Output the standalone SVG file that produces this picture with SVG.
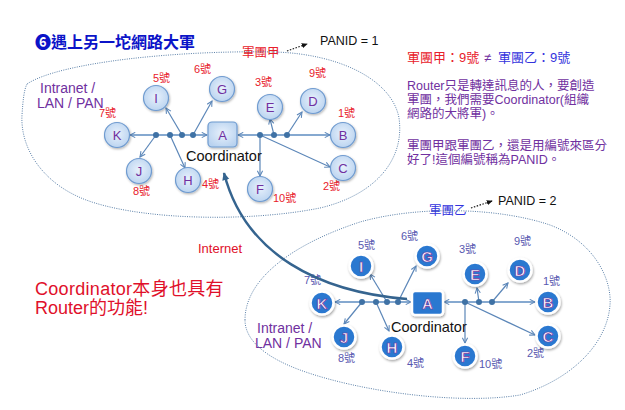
<svg xmlns="http://www.w3.org/2000/svg" width="625" height="410" viewBox="0 0 625 410">
<style>
.cjk{font-family:"Liberation Sans","Noto Sans CJK TC",sans-serif}
.blob{fill:none;stroke:#5a7fa8;stroke-width:1;stroke-dasharray:1 1.3}
.ln{fill:none;stroke:#5b86b8;stroke-width:1.2;marker-end:url(#arr)}
.hl{fill:none;stroke:#86a9d0;stroke-width:2;marker-end:url(#arr)}
.dot{fill:#3f72a5}
.n1 circle{fill:url(#g1);stroke:#6f9bd0;stroke-width:1.2;filter:url(#sh)}
.n1 text{font-family:"Liberation Sans",sans-serif;font-size:13px;fill:#7030a0;text-anchor:middle}
.n2 circle,.n2 rect{fill:#2a78d0;stroke:#fff;stroke-width:2.5;filter:url(#sh2)}
.n2 text{font-family:"Liberation Sans",sans-serif;font-size:15px;font-weight:bold;fill:#fff;stroke:#7030a0;stroke-width:0.7;text-anchor:middle}
.lr{font-size:11px;fill:#e8202a}
.lb{font-size:11px;fill:#5858b0}
.coord{font-family:"Liberation Sans",sans-serif;font-size:14.5px;fill:#111}
.intra{font-family:"Liberation Sans",sans-serif;font-size:14px;fill:#7030a0}
.pur{font-size:12.5px;fill:#7030a0}
</style>
<defs>
<radialGradient id="g1" cx="50%" cy="45%" r="60%">
<stop offset="0" stop-color="#e8f1fc"/>
<stop offset="1" stop-color="#b8d2ef"/>
</radialGradient>
<filter id="sh" x="-30%" y="-30%" width="160%" height="160%">
<feDropShadow dx="0.8" dy="1.2" stdDeviation="0.8" flood-color="#000" flood-opacity="0.3"/>
</filter>
<filter id="sh2" x="-40%" y="-40%" width="180%" height="180%">
<feDropShadow dx="0.8" dy="1.5" stdDeviation="1.2" flood-color="#000" flood-opacity="0.35"/>
</filter>
<marker id="arr" viewBox="0 0 8 8" refX="7" refY="4" markerWidth="7" markerHeight="7" markerUnits="userSpaceOnUse" orient="auto">
<path d="M1,1 L7,4 L1,7" fill="none" stroke="#5b86b8" stroke-width="1.2"/>
</marker>
<marker id="big" viewBox="0 0 10 10" refX="8" refY="5" markerWidth="9" markerHeight="9" markerUnits="userSpaceOnUse" orient="auto">
<path d="M0,1 L9,5 L0,9 Z" fill="#35648f"/>
</marker>
<marker id="dar" viewBox="0 0 8 8" refX="7" refY="4" markerWidth="6" markerHeight="6" markerUnits="userSpaceOnUse" orient="auto">
<path d="M0,0.5 L8,4 L0,7.5 Z" fill="#111"/>
</marker>
</defs>
<rect width="625" height="410" fill="#fff"/>

<!-- texts -->
<text x="35" y="48" class="cjk" font-size="16" font-weight="bold" fill="#0b14c8" font-family="'DejaVu Sans','Noto Sans CJK TC',sans-serif">❻遇上另一坨網路大軍</text>
<text x="242" y="57" class="cjk" font-size="12.5" fill="#e8202a">軍團甲</text>
<text x="320" y="45" font-family="Liberation Sans,sans-serif" font-size="12.5" fill="#111">PANID = 1</text>
<text x="429" y="215" class="cjk" font-size="12.5" fill="#3333dd">軍團乙</text>
<text x="498" y="205" font-family="Liberation Sans,sans-serif" font-size="12.5" fill="#111">PANID = 2</text>

<text class="cjk" font-size="13" y="62"><tspan x="407" fill="#e8202a">軍團甲：9號</tspan><tspan x="484" fill="#7030a0">≠</tspan><tspan x="498" fill="#3333dd">軍團乙：9號</tspan></text>
<text class="cjk pur" x="407" y="90">Router只是轉達訊息的人，要創造</text>
<text class="cjk pur" x="407" y="104">軍團，我們需要Coordinator(組織</text>
<text class="cjk pur" x="407" y="118">網路的大將軍)。</text>
<text class="cjk pur" x="407" y="150">軍團甲跟軍團乙，還是用編號來區分</text>
<text class="cjk pur" x="407" y="164">好了!這個編號稱為PANID。</text>

<text class="cjk" x="198" y="253" font-size="13" fill="#e0102a">Internet</text>
<text class="cjk" x="35" y="295" font-size="18" fill="#e0102a" letter-spacing="0.3">Coordinator本身也具有</text>
<text class="cjk" x="35" y="314" font-size="18" fill="#e0102a">Router的功能!</text>

<text class="intra" x="40" y="93">Intranet /</text>
<text class="intra" x="37" y="108">LAN / PAN</text>
<text class="intra" x="257" y="333">Intranet /</text>
<text class="intra" x="255" y="348">LAN / PAN</text>

<!-- number labels top -->
<g class="cjk lr">
<text x="153" y="82">5號</text>
<text x="194" y="73">6號</text>
<text x="99" y="117">7號</text>
<text x="133" y="195">8號</text>
<text x="202" y="188">4號</text>
<text x="255" y="86">3號</text>
<text x="309" y="77">9號</text>
<text x="338" y="117">1號</text>
<text x="323" y="190">2號</text>
<text x="273" y="202">10號</text>
</g>
<g class="cjk lb">
<text x="358" y="249">5號</text>
<text x="401" y="240">6號</text>
<text x="304" y="284">7號</text>
<text x="338" y="362">8號</text>
<text x="407" y="367">4號</text>
<text x="459" y="253">3號</text>
<text x="514" y="245">9號</text>
<text x="543" y="285">1號</text>
<text x="527" y="357">2號</text>
<text x="479" y="368">10號</text>
</g>

<!-- blobs -->
<path class="blob" d="M27,84 C60,62 180,50 275,52 C340,54 392,80 399,118 C405,160 375,195 320,208 C250,222 150,220 95,203 C45,188 20,150 22,115 C23,100 24,90 27,84 Z"/>
<path class="blob" d="M245,320 C245,280 290,245 360,222 C420,205 500,208 550,225 C595,242 612,280 610,305 C607,345 570,380 520,395 C460,405 360,392 300,370 C265,357 245,340 245,320 Z"/>

<g id="connectors">
<!-- PANID pointers -->
<path d="M287,51 L307,44" fill="none" stroke="#111" stroke-width="1.2" stroke-dasharray="1.5 1.5" marker-end="url(#dar)"/>
<path d="M471,208 L492,201" fill="none" stroke="#111" stroke-width="1.2" stroke-dasharray="1.5 1.5" marker-end="url(#dar)"/>
<!-- top cluster -->
<path class="hl" d="M156,135 L130,135"/>
<path class="hl" d="M156,135 L207,135"/>
<path class="hl" d="M260,135 L238,135"/>
<path class="hl" d="M260,135 L330,135"/>
<path class="ln" d="M156,135 L140,157"/>
<path class="ln" d="M170,135 L185,168"/>
<path class="ln" d="M182,135 L166,108"/>
<path class="ln" d="M193,135 L212,101"/>
<path class="ln" d="M260,135 L260,176"/>
<path class="ln" d="M260,135 L330,167"/>
<path class="ln" d="M274,135 L270,119"/>
<path class="ln" d="M287,135 L302,112"/>
<circle class="dot" cx="156" cy="135" r="3"/>
<circle class="dot" cx="170" cy="135" r="3"/>
<circle class="dot" cx="182" cy="135" r="3"/>
<circle class="dot" cx="193" cy="135" r="3"/>
<circle class="dot" cx="260" cy="135" r="3"/>
<circle class="dot" cx="274" cy="135" r="3"/>
<circle class="dot" cx="287" cy="135" r="3"/>
<!-- bottom cluster -->
<path class="hl" d="M362,302 L335,302"/>
<path class="hl" d="M362,302 L411,302"/>
<path class="hl" d="M465,302 L444,302"/>
<path class="hl" d="M465,302 L535,302"/>
<path class="ln" d="M362,302 L344,324"/>
<path class="ln" d="M376,302 L389,331"/>
<path class="ln" d="M387,302 L370,274"/>
<path class="ln" d="M398,302 L416,266"/>
<path class="ln" d="M465,302 L465,343"/>
<path class="ln" d="M465,302 L535,335"/>
<path class="ln" d="M479,302 L477,288"/>
<path class="ln" d="M492,302 L508,283"/>
<circle class="dot" cx="362" cy="302" r="3"/>
<circle class="dot" cx="376" cy="302" r="3"/>
<circle class="dot" cx="387" cy="302" r="3"/>
<circle class="dot" cx="398" cy="302" r="3"/>
<circle class="dot" cx="465" cy="302" r="3"/>
<circle class="dot" cx="479" cy="302" r="3"/>
<circle class="dot" cx="492" cy="302" r="3"/>
<!-- internet link -->
<path d="M407,299 C320,292 245,255 224,173" fill="none" stroke="#35648f" stroke-width="2.5" marker-end="url(#big)"/>
</g>

<!-- top cluster nodes -->
<g id="top-A" class="n1"><rect x="208" y="122" width="29" height="25" rx="4" fill="url(#g1)" stroke="#6f9bd0" stroke-width="1.2" filter="url(#sh)"/><text x="222.5" y="139.5">A</text></g>
<text class="coord" x="186" y="161">Coordinator</text>
<g id="top-K" class="n1"><circle cx="117" cy="135" r="12.5"/><text x="117" y="139.5">K</text></g>
<g id="top-J" class="n1"><circle cx="139" cy="171" r="12.5"/><text x="139" y="175.5">J</text></g>
<g id="top-H" class="n1"><circle cx="188" cy="180" r="12.5"/><text x="188" y="184.5">H</text></g>
<g id="top-I" class="n1"><circle cx="156" cy="98" r="12.5"/><text x="156" y="102.5">I</text></g>
<g id="top-G" class="n1"><circle cx="222" cy="89" r="12.5"/><text x="222" y="93.5">G</text></g>
<g id="top-E" class="n1"><circle cx="270" cy="107" r="12.5"/><text x="270" y="111.5">E</text></g>
<g id="top-D" class="n1"><circle cx="313" cy="101" r="12.5"/><text x="313" y="105.5">D</text></g>
<g id="top-B" class="n1"><circle cx="343" cy="135" r="12.5"/><text x="343" y="139.5">B</text></g>
<g id="top-C" class="n1"><circle cx="343" cy="168" r="12.5"/><text x="343" y="172.5">C</text></g>
<g id="top-F" class="n1"><circle cx="260" cy="189" r="12.5"/><text x="260" y="193.5">F</text></g>

<!-- bottom cluster nodes -->
<g id="bot-A" class="n2"><rect x="412" y="291" width="31" height="24" rx="3"/><text x="427.5" y="308.5">A</text></g>
<text class="coord" x="391" y="332">Coordinator</text>
<g id="bot-K" class="n2"><circle cx="322" cy="303" r="11.5"/><text x="322" y="308.5">K</text></g>
<g id="bot-J" class="n2"><circle cx="344" cy="337" r="11.5"/><text x="344" y="342.5">J</text></g>
<g id="bot-H" class="n2"><circle cx="392" cy="347" r="11.5"/><text x="392" y="352.5">H</text></g>
<g id="bot-I" class="n2"><circle cx="361" cy="266" r="11.5"/><text x="361" y="271.5">I</text></g>
<g id="bot-G" class="n2"><circle cx="427" cy="256" r="11.5"/><text x="427" y="261.5">G</text></g>
<g id="bot-E" class="n2"><circle cx="475" cy="274" r="11.5"/><text x="475" y="279.5">E</text></g>
<g id="bot-D" class="n2"><circle cx="520" cy="270" r="11.5"/><text x="520" y="275.5">D</text></g>
<g id="bot-B" class="n2"><circle cx="548" cy="302" r="11.5"/><text x="548" y="307.5">B</text></g>
<g id="bot-C" class="n2"><circle cx="548" cy="336" r="11.5"/><text x="548" y="341.5">C</text></g>
<g id="bot-F" class="n2"><circle cx="465" cy="356" r="11.5"/><text x="465" y="361.5">F</text></g>
</svg>
